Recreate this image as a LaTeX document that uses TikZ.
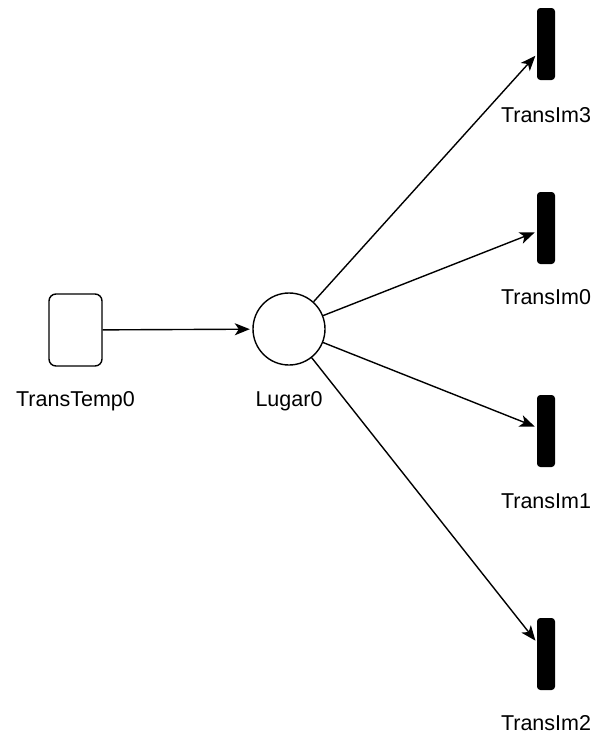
\documentclass[tikz,border=0pt]{standalone}
\usepackage{fontspec}
\setmainfont{Liberation Sans}
\usetikzlibrary{arrows.meta,calc}
\tikzset{
  ttrans/.style={draw, line width=1.4pt, rounded corners=7pt, minimum width=53pt, minimum height=72pt, inner sep=0pt, fill=white},
  place/.style={draw, circle, line width=1.4pt, minimum size=72pt, inner sep=0pt, fill=white},
  imtrans/.style={draw, fill=black, line width=1pt, rounded corners=3pt, minimum width=17pt, minimum height=71pt, inner sep=0pt},
  lbl/.style={anchor=base, inner sep=0pt, font=\fontsize{21.5}{25}\selectfont},
  arr/.style={line width=1.4pt, -{Stealth[length=15pt, width=12pt, inset=4pt]}, shorten >=2.5pt}
}
\begin{document}
\begin{tikzpicture}[x=1pt, y=-1pt]
\useasboundingbox (0,0) rectangle (591,736);
\node[ttrans] (tt) at (75.5,330) {};
\node[place] (lugar) at (289,329) {};
\node[imtrans] (t3) at (546,44) {};
\node[imtrans] (t0) at (546,228) {};
\node[imtrans] (t1) at (546,431) {};
\node[imtrans] (t2) at (546,654) {};
\node[lbl] (ltt) at (75.5,406) {TransTemp0};
\node[lbl] (llug) at (289,406) {Lugar0};
\node[lbl] (l3) at (546,122) {TransIm3};
\node[lbl] (l0) at (546,304) {TransIm0};
\node[lbl] (l1) at (546,508) {TransIm1};
\node[lbl] (l2) at (546,730) {TransIm2};
\draw[arr] (tt) -- (lugar);
\draw[arr] (lugar) -- (t3);
\draw[arr] (lugar) -- (t0);
\draw[arr] (lugar) -- (t1);
\draw[arr] (lugar) -- (t2);
\end{tikzpicture}
\end{document}
